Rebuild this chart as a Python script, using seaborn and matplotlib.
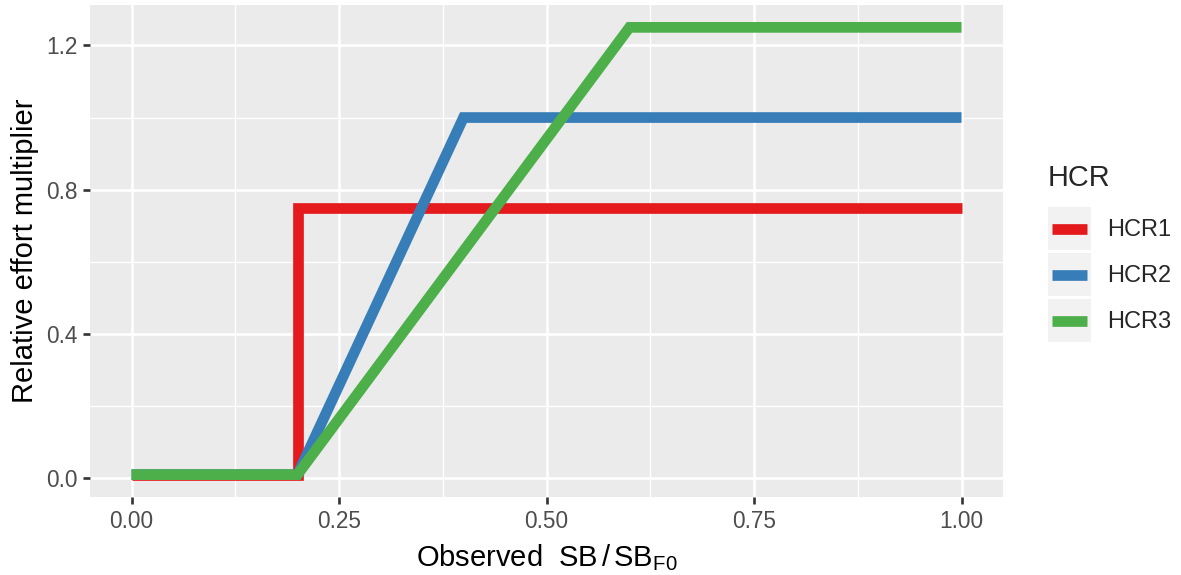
import numpy as np
import pandas as pd
import matplotlib
matplotlib.use("Agg")
import matplotlib.pyplot as plt
from matplotlib.lines import Line2D
from matplotlib.patches import Rectangle
from matplotlib.legend_handler import HandlerBase
import seaborn as sns

# harvest control rules: observed SB/SB_F0 vs relative effort multiplier
hcr_names = ["HCR1", "HCR2", "HCR3"]
hcr1_x = [0.0, 0.2, 0.2, 1.0]
hcr1_y = [0.01, 0.01, 0.75, 0.75]
hcr2_x = [0.0, 0.2, 0.4, 1.0]
hcr2_y = [0.01, 0.01, 1.0, 1.0]
hcr3_x = [0.0, 0.2, 0.6, 1.0]
hcr3_y = [0.01, 0.01, 1.25, 1.25]
x_ticks = [0.0, 0.25, 0.5, 0.75, 1.0]
x_ticklabels = ["0.00", "0.25", "0.50", "0.75", "1.00"]
y_ticks = [0.0, 0.4, 0.8, 1.2]
y_ticklabels = ["0.0", "0.4", "0.8", "1.2"]
colors = ["#E41A1C", "#377EB8", "#4DAF4A"]

df = pd.concat([
    pd.DataFrame({"x": hcr1_x, "y": hcr1_y, "HCR": "HCR1"}),
    pd.DataFrame({"x": hcr2_x, "y": hcr2_y, "HCR": "HCR2"}),
    pd.DataFrame({"x": hcr3_x, "y": hcr3_y, "HCR": "HCR3"}),
], ignore_index=True)


class KeyHandler(HandlerBase):
    # ggplot-like legend key: grey box with the line across it
    def create_artists(self, legend, orig_handle, xdescent, ydescent,
                       width, height, fontsize, trans):
        bg = Rectangle((-xdescent, -ydescent), width, height, facecolor="#F2F2F2",
                       edgecolor="none", transform=trans)
        ymid = -ydescent + height / 2
        ln = Line2D([-xdescent + 3, -xdescent + width - 3], [ymid, ymid],
                    color=orig_handle.get_color(), linewidth=orig_handle.get_linewidth(),
                    solid_capstyle="butt", transform=trans)
        return [bg, ln]


sns.set_theme(style="darkgrid", rc={
    "axes.facecolor": "#EBEBEB",
    "grid.color": "white",
    "axes.edgecolor": "none",
})
plt.rcParams["font.family"] = ["Liberation Sans", "DejaVu Sans"]
plt.rcParams["mathtext.fontset"] = "custom"
plt.rcParams["mathtext.rm"] = "Liberation Sans"
plt.rcParams["mathtext.it"] = "Liberation Sans:italic"

fig = plt.figure(figsize=(11.81, 5.75), dpi=100)
ax = fig.add_axes([90 / 1181, 1 - 497 / 575, (1003 - 90) / 1181, (497 - 5) / 575])

sns.lineplot(data=df, x="x", y="y", hue="HCR", palette=colors, hue_order=hcr_names,
             estimator=None, sort=False, linewidth=7.7, legend=False, ax=ax,
             solid_joinstyle="miter", solid_capstyle="butt")

ax.set_xlim(-0.05, 1.05)
ax.set_ylim(0.01 - 0.062, 1.25 + 0.062)
ax.set_xticks(x_ticks)
ax.set_xticklabels(x_ticklabels)
ax.set_yticks(y_ticks)
ax.set_yticklabels(y_ticklabels)
ax.set_xticks([0.125, 0.375, 0.625, 0.875], minor=True)
ax.set_yticks([0.2, 0.6, 1.0], minor=True)
ax.grid(which="major", color="white", linewidth=1.9)
ax.grid(which="minor", color="white", linewidth=0.95)
ax.set_axisbelow(True)
ax.tick_params(which="major", length=5, width=1.9, color="#333333",
               labelsize=16.3, labelcolor="#4D4D4D", pad=4,
               bottom=True, left=True)
ax.tick_params(which="minor", length=0)

ax.set_xlabel(r"Observed  $\mathregular{SB\,/\,SB_{F0}}$", fontsize=21, labelpad=7, color="black")
ax.set_ylabel("Relative effort multiplier", fontsize=21, labelpad=5, color="black")

handles = [Line2D([], [], color=c, linewidth=7.7) for c in colors]
leg = fig.legend(handles, hcr_names, handler_map={Line2D: KeyHandler()},
                 loc="center left", bbox_to_anchor=(1048 / 1181, 1 - 253 / 575),
                 frameon=False, fontsize=17, title="HCR", title_fontsize=20.8,
                 handlelength=1.82, handleheight=2.43, labelspacing=0.12,
                 handletextpad=0.7, borderpad=0, borderaxespad=0, alignment="left")
# extra room between the legend title and the keys, like ggplot
leg._legend_box.sep = 11

fig.savefig("out.png", dpi=100)
